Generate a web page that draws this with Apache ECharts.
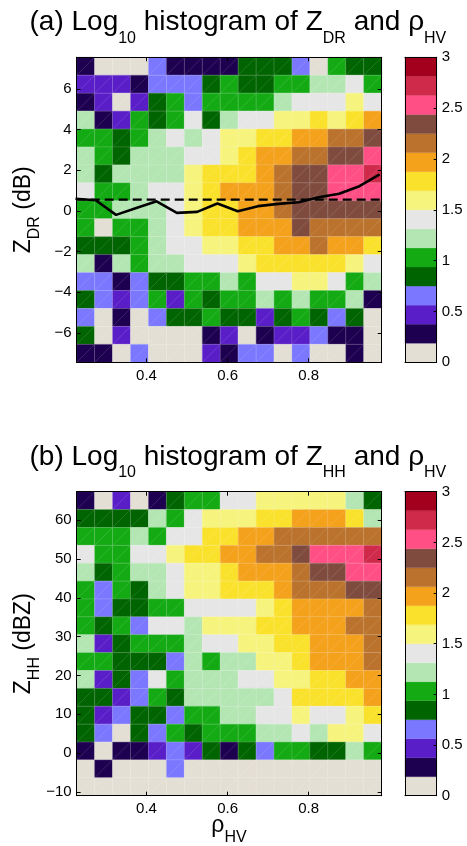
<!DOCTYPE html>
<html>
<head>
<meta charset="utf-8">
<script src="https://cdn.jsdelivr.net/npm/echarts@6/dist/echarts.min.js"></script>
<style>
  html, body { margin: 0; padding: 0; background: #fff; }
  #chart { width: 467px; height: 846px; }
</style>
</head>
<body>
<div id="chart"></div>
<script>
// Axis limits and tick positions
const rhoLimits = [0.228, 0.98];
const zdrLimits = [-7.45, 7.55];
const zhhLimits = [-11, 67.35];
const logCountLimits = [0, 3];
const rhoTicks = [0.4, 0.6, 0.8];
const zdrTicks = [-6, -4, -2, 0, 2, 4, 6];
const zhhTicks = [-10, 0, 10, 20, 30, 40, 50, 60];
const colorbarTicks = [0, 0.5, 1, 1.5, 2, 2.5, 3];

// 16 colour classes of log10(count), from 0 up to 3
const palette = [
  '#e3dfd4', '#1e0050', '#5a1ec8', '#7b78ff',
  '#006400', '#14aa14', '#b4e6b4', '#e6e6e6',
  '#f6f47c', '#fae22c', '#f4a11c', '#ba722c',
  '#7f4b3e', '#ff4f84', '#cf2a4a', '#a3001e'
];

// log10 counts, Z_DR vs rho_HV; first row is the highest Z_DR bin
const zdrRows = [
  [0.28,0,0,0,0.66,0.28,0.28,0.28,0.28,0.84,0.84,0.84,0.66,0,1.03,0.84,0.84],
  [0.47,0.47,0.47,0.28,0.66,0.66,0.66,0.84,1.03,0.84,0.84,1.03,1.03,1.22,1.22,1.41,1.03],
  [0.28,0.47,0,0.47,0.84,1.03,0.66,1.03,1.03,1.03,1.03,1.22,1.41,1.41,1.41,1.59,1.41],
  [1.22,0.28,0.47,1.03,0.84,1.03,1.41,0.84,1.22,1.41,1.41,1.59,1.59,1.78,1.59,1.78,1.97],
  [1.03,1.03,0.84,1.03,1.22,1.41,1.22,1.41,1.59,1.59,1.78,1.78,1.97,1.97,2.16,2.16,2.34],
  [1.22,1.03,0.84,1.22,1.22,1.22,1.41,1.41,1.59,1.78,1.97,1.97,2.16,2.16,2.34,2.34,2.53],
  [1.22,0.84,1.22,1.22,1.22,1.22,1.59,1.78,1.78,1.78,1.97,2.16,2.34,2.34,2.53,2.53,2.72],
  [1.41,1.03,1.03,1.22,1.41,1.41,1.59,1.78,1.97,1.97,1.97,2.16,2.34,2.34,2.53,2.53,2.53],
  [1.03,1.03,1.22,1.22,1.22,1.41,1.59,1.78,1.78,1.97,1.97,2.16,2.34,2.34,2.34,2.34,2.34],
  [1.03,0,1.03,1.03,1.22,1.41,1.59,1.78,1.78,1.97,1.97,1.97,2.34,2.16,2.16,2.16,2.16],
  [0.84,0.84,0.84,1.03,1.22,1.41,1.41,1.59,1.59,1.78,1.78,1.97,1.97,2.16,1.97,1.97,1.78],
  [1.22,0.28,1.22,1.03,1.22,1.22,1.41,1.41,1.41,1.59,1.78,1.78,1.78,1.78,1.78,1.59,1.41],
  [0.66,0.66,0.28,0.66,0.84,0.84,1.03,1.03,1.22,1.03,1.41,1.41,1.59,1.59,1.41,1.03,1.22],
  [0.84,0.66,0.47,0.66,1.03,0.47,1.03,0.84,1.03,1.03,1.22,1.03,1.22,1.03,1.03,1.22,0.28],
  [0.66,0,0.28,0,0.66,0.84,0.84,1.03,0.84,0.84,0.47,0.84,1.03,0.84,0.66,0.84,0],
  [0.84,0,0.47,0,0,0,0,0.28,0.47,0,0.28,0.47,0.47,0.66,0.28,0.28,0],
  [0.28,0.28,0,0.66,0,0,0,0.47,0.28,0.66,0.66,0,0.66,0,0,0.28,0]
];

// log10 counts, Z_HH vs rho_HV; first row is the highest Z_HH bin
const zhhRows = [
  [0.28,0,0.47,0,0.28,0.84,1.03,1.03,1.41,1.41,1.59,1.59,1.59,1.59,1.59,1.22,0.84],
  [0.84,0.84,0.84,0.84,1.22,1.03,1.41,1.59,1.59,1.59,1.78,1.78,1.97,1.97,1.97,1.78,1.22],
  [1.03,1.03,1.03,1.22,1.03,1.41,1.41,1.78,1.78,1.97,1.97,2.16,2.16,2.16,2.16,2.16,2.16],
  [1.41,1.03,1.03,1.41,1.41,1.59,1.78,1.78,1.97,1.97,2.16,2.16,2.34,2.53,2.53,2.53,2.72],
  [1.22,0.84,1.03,1.22,1.22,1.41,1.59,1.59,1.78,1.97,1.97,1.97,2.16,2.34,2.34,2.53,2.53],
  [1.03,0.66,1.03,0.84,1.22,1.41,1.59,1.59,1.78,1.78,1.78,1.97,2.16,2.16,2.16,2.34,2.34],
  [1.03,0.66,0.84,0.84,1.03,1.03,1.41,1.41,1.41,1.41,1.59,1.78,1.97,1.97,1.97,1.97,2.16],
  [1.03,0.84,1.03,0.66,1.41,1.41,1.22,1.59,1.59,1.59,1.78,1.78,1.97,1.97,1.97,2.16,2.16],
  [1.22,0.47,0.84,1.03,1.03,1.03,1.22,1.41,1.41,1.59,1.59,1.78,1.78,1.97,1.97,1.97,2.16],
  [1.03,1.03,0.84,0.84,0.84,0.66,1.22,1.03,1.22,1.22,1.59,1.59,1.78,1.97,1.97,1.97,2.16],
  [1.22,0.47,0.84,0.66,1.41,1.03,1.22,1.22,1.22,1.41,1.41,1.59,1.59,1.78,1.78,1.97,1.97],
  [0.84,0.84,0.47,0.66,1.03,0.84,1.22,1.22,1.22,1.22,1.22,1.41,1.78,1.78,1.78,1.78,1.97],
  [0.84,0.47,0.66,0.84,0.84,0.66,1.03,1.03,1.22,1.22,1.41,1.41,1.59,1.41,1.41,1.59,1.78],
  [0.84,0.66,0,0.84,0.66,1.03,0.84,1.03,1.03,1.03,1.22,1.22,1.41,1.22,1.59,1.59,1.41],
  [0.28,0,0.28,0.28,0.47,0.66,0.47,0.84,0.28,0.84,0.66,1.03,1.03,0.84,0.84,1.22,1.03],
  [0,0.28,0,0,0,0.66,0,0,0,0,0,0,0,0,0,0,0],
  [0,0,0,0,0,0,0,0,0,0,0,0,0,0,0,0,0]
];

// Median Z_DR per rho_HV step and the reference Z_DR level
const lineRho = [0.225,0.275,0.325,0.375,0.425,0.475,0.525,0.575,0.625,0.675,0.725,0.775,0.825,0.875,0.925,0.975];
const lineZdr = [0.59,0.52,-0.20,0.14,0.47,-0.10,-0.05,0.36,-0.02,0.23,0.34,0.42,0.67,0.84,1.21,1.79];
const zdrReference = 0.55;

const FONT = '"Liberation Sans", Arial, Helvetica, sans-serif';

function edges(lim, n) {
  const e = [];
  for (let k = 0; k <= n; k++) e.push(lim[0] + (lim[1] - lim[0]) * k / n);
  return e;
}

// Each cell: [x0, x1, y0, y1, log10 count]
function cells(rows, xLim, yLim) {
  const nR = rows.length, nC = rows[0].length;
  const xe = edges(xLim, nC), ye = edges(yLim, nR);
  const out = [];
  rows.forEach((row, r) => {
    const j = nR - 1 - r;
    row.forEach((v, i) => out.push([xe[i], xe[i + 1], ye[j], ye[j + 1], v]));
  });
  return out;
}

function colorbarCells() {
  const step = (logCountLimits[1] - logCountLimits[0]) / palette.length;
  return palette.map((c, k) => [0, 1, k * step, (k + 1) * step, (k + 0.5) * step]);
}

function cellRect(api) {
  const a = api.coord([api.value(0), api.value(2)]);
  const b = api.coord([api.value(1), api.value(3)]);
  return {
    x: Math.min(a[0], b[0]), y: Math.min(a[1], b[1]),
    width: Math.abs(b[0] - a[0]), height: Math.abs(b[1] - a[1]),
    bl: [a[0], a[1]], tr: [b[0], b[1]]
  };
}

function renderCell(params, api) {
  const r = cellRect(api);
  const fill = api.visual('color');
  const seam = 'rgba(255,255,255,0.22)';
  return {
    type: 'group',
    children: [
      { type: 'rect', shape: { x: r.x, y: r.y, width: r.width, height: r.height },
        style: { fill: fill, stroke: fill, lineWidth: 0.3 } },
      { type: 'rect', shape: { x: r.x, y: r.y, width: r.width, height: r.height },
        style: { fill: 'none', stroke: seam, lineWidth: 0.6 } },
      { type: 'line', shape: { x1: r.bl[0], y1: r.bl[1], x2: r.tr[0], y2: r.tr[1] },
        style: { stroke: seam, lineWidth: 0.6 } }
    ]
  };
}

function renderBarCell(params, api) {
  const r = cellRect(api);
  const fill = api.visual('color');
  return { type: 'rect', shape: { x: r.x, y: r.y, width: r.width, height: r.height },
           style: { fill: fill, stroke: fill, lineWidth: 0.3 } };
}

const minus = v => (v < 0 ? '\u2212' + Math.abs(v) : String(v));

function axis(gridIndex, position, lim, opts) {
  opts = opts || {};
  const ticks = opts.ticks;
  return {
    type: 'value', gridIndex: gridIndex, position: position,
    min: lim[0], max: lim[1], z: 10,
    axisLine: { show: true, onZero: false, lineStyle: { color: '#000', width: 1 } },
    axisTick: ticks ? { show: true, inside: true, length: opts.tickLen || 4, customValues: ticks,
                        lineStyle: { color: '#000', width: 1 } } : { show: false },
    axisLabel: opts.labels ? { show: true, customValues: ticks, margin: opts.margin, fontSize: 15,
                               fontFamily: FONT, color: '#000', formatter: minus } : { show: false },
    splitLine: { show: false }
  };
}

const step = (logCountLimits[1] - logCountLimits[0]) / palette.length;
const pieces = palette.map((c, k) => {
  const p = { gte: k * step, color: c };
  if (k < palette.length - 1) p.lt = (k + 1) * step; else p.lte = logCountLimits[1];
  return p;
});

const plotLeft = 76.7, plotW = 305, barLeft = 405, barW = 31.7;
const topA = 57.3, hA = 305, topB = 491.7, hB = 304;

function richTitle(size, sub, pad) {
  return {
    m: { fontSize: size, lineHeight: size, fontFamily: FONT, fill: '#000', verticalAlign: 'top' },
    s: { fontSize: sub, lineHeight: sub, fontFamily: FONT, fill: '#000', verticalAlign: 'top', padding: [pad, 0, 0, 0] }
  };
}

const chart = echarts.init(document.getElementById('chart'), null, { renderer: 'canvas' });
chart.setOption({
  animation: false,
  backgroundColor: '#fff',
  grid: [
    { left: plotLeft, top: topA, width: plotW, height: hA },
    { left: barLeft, top: topA, width: barW, height: hA },
    { left: plotLeft, top: topB, width: plotW, height: hB },
    { left: barLeft, top: topB, width: barW, height: hB }
  ],
  xAxis: [
    axis(0, 'bottom', rhoLimits, { ticks: rhoTicks, labels: true, margin: 6 }),
    axis(0, 'top', rhoLimits, { ticks: rhoTicks }),
    axis(1, 'bottom', [0, 1]),
    axis(1, 'top', [0, 1]),
    axis(2, 'bottom', rhoLimits, { ticks: rhoTicks, labels: true, margin: 6 }),
    axis(2, 'top', rhoLimits, { ticks: rhoTicks }),
    axis(3, 'bottom', [0, 1]),
    axis(3, 'top', [0, 1])
  ],
  yAxis: [
    axis(0, 'left', zdrLimits, { ticks: zdrTicks, labels: true, margin: 5 }),
    axis(0, 'right', zdrLimits, { ticks: zdrTicks }),
    axis(1, 'left', logCountLimits),
    axis(1, 'right', logCountLimits, { ticks: colorbarTicks, labels: true, margin: 5, tickLen: 3 }),
    axis(2, 'left', zhhLimits, { ticks: zhhTicks, labels: true, margin: 5 }),
    axis(2, 'right', zhhLimits, { ticks: zhhTicks }),
    axis(3, 'left', logCountLimits),
    axis(3, 'right', logCountLimits, { ticks: colorbarTicks, labels: true, margin: 5, tickLen: 3 })
  ],
  visualMap: [{
    type: 'piecewise', show: false, dimension: 4,
    seriesIndex: [0, 3, 4, 5], pieces: pieces
  }],
  series: [
    { type: 'custom', name: 'ZDR histogram', xAxisIndex: 0, yAxisIndex: 0,
      encode: { x: [0, 1], y: [2, 3] }, renderItem: renderCell, data: cells(zdrRows, rhoLimits, zdrLimits), z: 2 },
    { type: 'line', name: 'median', xAxisIndex: 0, yAxisIndex: 0, symbol: 'none', clip: true, z: 5,
      data: lineRho.map((r, i) => [r, lineZdr[i]]),
      lineStyle: { color: '#000', width: 2.6 } },
    { type: 'line', name: 'reference', xAxisIndex: 0, yAxisIndex: 0, symbol: 'none', clip: true, z: 5,
      data: [[rhoLimits[0], zdrReference], [rhoLimits[1], zdrReference]],
      lineStyle: { color: '#000', width: 2.2, type: [9, 5] } },
    { type: 'custom', name: 'colorbar a', xAxisIndex: 2, yAxisIndex: 3,
      encode: { x: [0, 1], y: [2, 3] }, renderItem: renderBarCell, data: colorbarCells(), z: 2 },
    { type: 'custom', name: 'ZHH histogram', xAxisIndex: 4, yAxisIndex: 4,
      encode: { x: [0, 1], y: [2, 3] }, renderItem: renderCell, data: cells(zhhRows, rhoLimits, zhhLimits), z: 2 },
    { type: 'custom', name: 'colorbar b', xAxisIndex: 6, yAxisIndex: 7,
      encode: { x: [0, 1], y: [2, 3] }, renderItem: renderBarCell, data: colorbarCells(), z: 2 }
  ],
  graphic: [
    { type: 'text', x: 29.5, y: 8.5, z: 20,
      style: { text: '{m|(a) Log}{s|10}{m| histogram of Z}{s|DR}{m| and \u03c1}{s|HV}',
               rich: richTitle(28, 16, 22), align: 'left', verticalAlign: 'top' } },
    { type: 'text', x: 29.5, y: 442.9, z: 20,
      style: { text: '{m|(b) Log}{s|10}{m| histogram of Z}{s|HH}{m| and \u03c1}{s|HV}',
               rich: richTitle(28, 16, 22), align: 'left', verticalAlign: 'top' } },
    { type: 'text', x: 12, y: topA + hA / 2, rotation: Math.PI / 2, z: 20,
      style: { text: '{m|Z}{s|DR}{m| (dB)}', rich: richTitle(23, 16, 15), align: 'center', verticalAlign: 'top' } },
    { type: 'text', x: 12, y: topB + hB / 2, rotation: Math.PI / 2, z: 20,
      style: { text: '{m|Z}{s|HH}{m| (dBZ)}', rich: richTitle(23, 16, 15), align: 'center', verticalAlign: 'top' } },
    { type: 'text', x: 229, y: 814.5, z: 20,
      style: { text: '{m|\u03c1}{s|HV}', rich: richTitle(23, 16, 15), align: 'center', verticalAlign: 'top' } }
  ]
});
</script>
</body>
</html>
